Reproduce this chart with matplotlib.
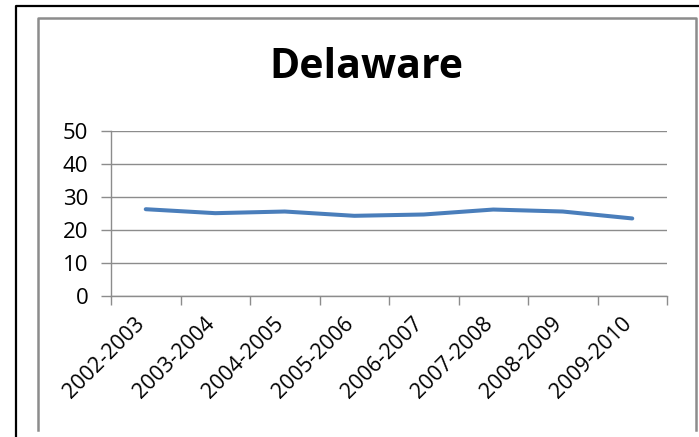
import numpy as np
import matplotlib.pyplot as plt
from matplotlib.lines import Line2D

# データ
years = ['2002-2003', '2003-2004', '2004-2005', '2005-2006',
         '2006-2007', '2007-2008', '2008-2009', '2009-2010']
values = [26.3, 25.1, 25.6, 24.3, 24.7, 26.2, 25.6, 23.5]
yticks = [0, 10, 20, 30, 40, 50]

W, H = 699, 437
plt.rcParams['font.family'] = ['Open Sans', 'DejaVu Sans']

fig = plt.figure(figsize=(W / 100, H / 100), dpi=100)

def px(x, y):
    return x / W, 1 - y / H

# 外枠 (黒) と グラフ枠 (灰色)
x0, y0 = px(16, 6)
x1, y1 = px(699, 437)
fig.add_artist(Line2D([x0, x0, x1], [y1, y0, y0], color='black', lw=1.6))
gx0, gy0 = px(38, 18)
gx1, gy1 = px(696, 430)
fig.add_artist(Line2D([gx0, gx0, gx1, gx1], [gy1, gy0, gy0, gy1], color='#8c8c8c', lw=1.8))

# プロット領域
l, t = px(111, 131)
r, b = px(667, 296)
ax = fig.add_axes([l, b, r - l, t - b])

x = np.arange(len(years))
ax.plot(x, values, color='#4a7ebb', lw=2.9, solid_capstyle='round')

ax.set_xlim(-0.5, len(years) - 0.5)
ax.set_ylim(0, 50)
ax.set_yticks(yticks)
ax.yaxis.grid(True, color='#8c8c8c', lw=1.0)
ax.set_axisbelow(True)

ax.set_xticks(x)
ax.set_xticklabels(years, rotation=45, ha='right', va='baseline',
                   rotation_mode='anchor', fontsize=15.5)
ax.set_xticks(np.arange(len(years) + 1) - 0.5, minor=True)
ax.tick_params(axis='x', which='major', length=0, pad=20.5)
ax.tick_params(axis='x', which='minor', length=6.5, color='#8c8c8c', width=1.0)
ax.tick_params(axis='y', length=7.2, color='#8c8c8c', width=1.0, labelsize=16, pad=9)

for s in ['top', 'right']:
    ax.spines[s].set_visible(False)
for s in ['left', 'bottom']:
    ax.spines[s].set_color('#8c8c8c')
    ax.spines[s].set_linewidth(1.0)

tx, ty = px(366, 68)
fig.text(tx, ty, 'Delaware', fontsize=29.5, fontweight='bold', ha='center', va='center')

plt.savefig('out.png', dpi=100)
